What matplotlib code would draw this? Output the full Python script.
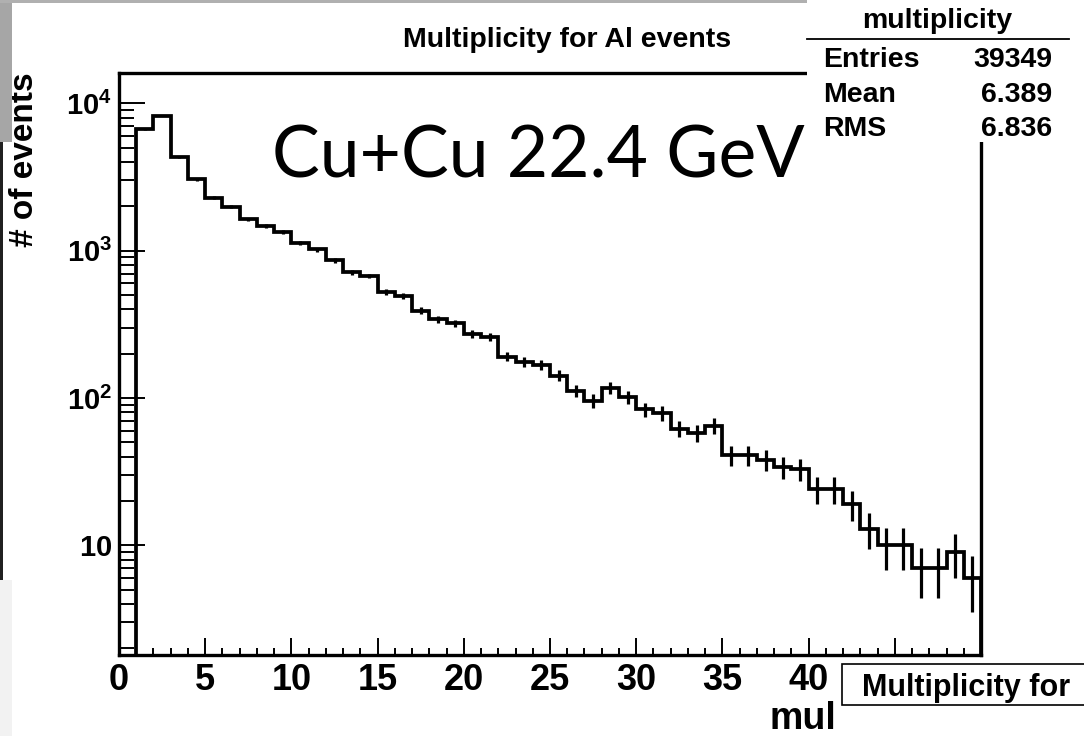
import numpy as np
import matplotlib.pyplot as plt
from matplotlib.patches import Rectangle
from matplotlib.lines import Line2D
from matplotlib.ticker import FixedLocator, FixedFormatter, LogLocator, NullFormatter, MultipleLocator

W, H = 1084, 736

# multiplicity histogram, bins [1,2) ... [49,50); bin 0 is empty
bin_low = list(range(1, 50))
counts = [6700, 8250, 4300, 3050, 2290, 1990, 1640, 1470, 1340, 1135,
          1020, 860, 712, 674, 527, 493, 392, 344, 322, 272,
          259, 191, 177, 168, 142, 112, 96, 117, 101, 84,
          79, 62, 58, 65, 41, 41, 38, 34, 33, 24,
          24, 19, 13, 10, 10, 7, 7, 9, 6]

stats_names = ['Entries', 'Mean', 'RMS']
stats_values = ['39349', '6.389', '6.836']

xticks = [0, 5, 10, 15, 20, 25, 30, 35, 40, 45, 50]
xtick_labels = ['0', '5', '10', '15', '20', '25', '30', '35', '40', '', '']
yticks = [10, 100, 1000, 10000]
ytick_labels = [r'$\mathbf{10}$', r'$\mathbf{10^{2}}$', r'$\mathbf{10^{3}}$', r'$\mathbf{10^{4}}$']

plt.rcParams['font.family'] = ['Liberation Sans', 'DejaVu Sans']
plt.rcParams['font.weight'] = 'bold'
plt.rcParams['mathtext.fontset'] = 'custom'
plt.rcParams['mathtext.rm'] = 'Liberation Sans'
plt.rcParams['mathtext.bf'] = 'Liberation Sans:bold'


def fx(x):
    return x / W


def fy(y):
    return 1 - y / H


fig = plt.figure(figsize=(W / 100, H / 100), dpi=100)
fig.patch.set_facecolor('white')

ax = fig.add_axes([fx(119), fy(655), (981 - 119) / W, (655 - 73) / H])
ax.set_yscale('log')
ax.set_xlim(0, 50)
ax.set_ylim(1.8, 16100)

edges = bin_low + [50]
ax.stairs(counts, edges, baseline=1.0, color='black', lw=2.7)
centers = [b + 0.5 for b in bin_low]
ax.errorbar(centers, counts, yerr=np.sqrt(counts), fmt='none',
            ecolor='black', elinewidth=2.3, capsize=0)

for s in ax.spines.values():
    s.set_linewidth(2.4)

ax.xaxis.set_major_locator(FixedLocator(xticks))
ax.xaxis.set_major_formatter(FixedFormatter(xtick_labels))
ax.xaxis.set_minor_locator(MultipleLocator(1))
ax.yaxis.set_major_locator(FixedLocator(yticks))
ax.yaxis.set_major_formatter(FixedFormatter(ytick_labels))
ax.yaxis.set_minor_locator(LogLocator(base=10, subs=range(2, 10), numticks=20))
ax.yaxis.set_minor_formatter(NullFormatter())

ax.tick_params(axis='x', which='major', direction='in', length=12, width=1.4,
               labelsize=26, pad=6)
ax.tick_params(axis='x', which='minor', direction='in', length=5, width=1.4)
ax.tick_params(axis='y', which='major', direction='in', length=19, width=1.4,
               labelsize=21, pad=5)
ax.tick_params(axis='y', which='minor', direction='in', length=10.5, width=1.4)

# title and axis titles
fig.text(fx(567), fy(47), 'Multiplicity for Al events', ha='center', va='baseline',
         fontsize=20.5, weight='bold')
fig.text(fx(25), fy(72), '# of events', rotation=90, ha='center', va='top',
         fontsize=24, weight='bold')
fig.text(fx(836), fy(729), 'mul', ha='right', va='baseline', fontsize=27, weight='bold')

# stats box
fig.add_artist(Rectangle((fx(807), fy(142)), (W - 807) / W, 142 / H,
                         transform=fig.transFigure, facecolor='white',
                         edgecolor='none', zorder=5))
fig.add_artist(Line2D([fx(807), fx(1069)], [fy(39), fy(39)], color='black',
                      lw=1.3, zorder=6))
fig.text(fx(937), fy(28), 'multiplicity', ha='center', va='baseline',
         fontsize=20.5, weight='bold', zorder=6)
for i, (name, val) in enumerate(zip(stats_names, stats_values)):
    yb = [67, 102, 136][i]
    fig.text(fx(823), fy(yb), name, ha='left', va='baseline', fontsize=20.5,
             weight='bold', zorder=6)
    fig.text(fx(1052), fy(yb), val, ha='right', va='baseline', fontsize=20.5,
             weight='bold', zorder=6)

# overlay label
fig.text(fx(272), fy(177), 'Cu+Cu 22.4 GeV', ha='left', va='baseline',
         fontsize=51.5, family='Lato', weight='normal', zorder=6)

# neighbouring pad title box (bottom right)
fig.add_artist(Rectangle((fx(842), fy(705)), (1095 - 842) / W, 41 / H,
                         transform=fig.transFigure, facecolor='white',
                         edgecolor='black', lw=1.2, zorder=5))
fig.text(fx(862), fy(696), 'Multiplicity for', ha='left', va='baseline',
         fontsize=22, weight='bold', zorder=6)

# slide border
fig.add_artist(Rectangle((0, fy(142)), fx(12), 142 / H, transform=fig.transFigure,
                         facecolor='#a6a6a6', edgecolor='none', zorder=4))
fig.add_artist(Rectangle((0, fy(3)), 1, 3 / H, transform=fig.transFigure,
                         facecolor='#b0b0b0', edgecolor='none', zorder=4))
fig.add_artist(Rectangle((0, fy(580)), fx(3), (580 - 142) / H, transform=fig.transFigure,
                         facecolor='#202020', edgecolor='none', zorder=4))
fig.add_artist(Rectangle((0, 0), fx(12), (736 - 580) / H, transform=fig.transFigure,
                         facecolor='#f2f2f2', edgecolor='none', zorder=4))

fig.savefig('out.png', dpi=100, facecolor='white')
